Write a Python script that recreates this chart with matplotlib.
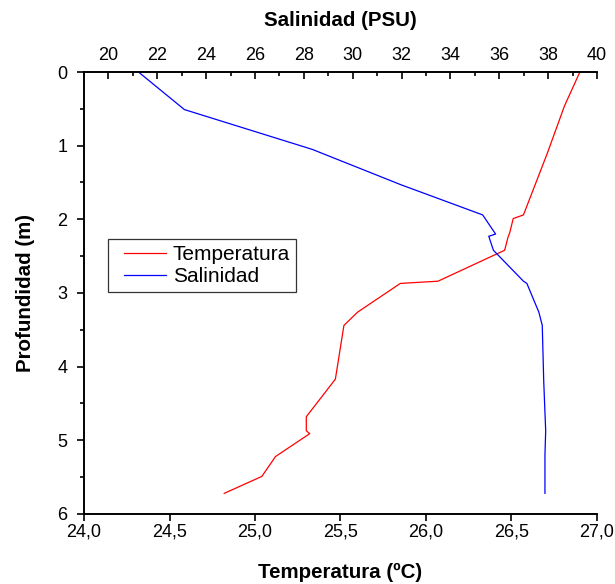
import numpy as np
import matplotlib
matplotlib.use("Agg")
import matplotlib.pyplot as plt
from matplotlib.ticker import FuncFormatter, MultipleLocator
from matplotlib.legend_handler import HandlerLine2D

plt.rcParams["font.family"] = ["Liberation Sans", "DejaVu Sans"]

# perfil de temperatura (ºC) vs profundidad (m)
temp = [26.90, 26.81, 26.71, 26.57, 26.51, 26.49, 26.48, 26.46, 26.07, 25.85,
        25.60, 25.52, 25.47, 25.30, 25.30, 25.32, 25.12, 25.04, 24.82]
depth_t = [0.00, 0.46, 1.10, 1.94, 1.99, 2.18, 2.24, 2.42, 2.84, 2.87,
           3.26, 3.44, 4.17, 4.68, 4.87, 4.91, 5.22, 5.49, 5.72]

# perfil de salinidad (PSU) vs profundidad (m)
sal = [21.23, 23.11, 28.34, 31.97, 35.32, 35.85, 35.57, 35.76, 36.99, 37.13,
       37.62, 37.76, 37.82, 37.90, 37.87, 37.87]
depth_s = [0.00, 0.51, 1.05, 1.53, 1.94, 2.20, 2.23, 2.42, 2.84, 2.87,
           3.26, 3.44, 4.20, 4.87, 5.20, 5.72]

fig = plt.figure(figsize=(6.15, 5.84), dpi=100)
ax = fig.add_axes([0.1366, 0.1199, 0.8341, 0.7568])
ax2 = ax.twiny()

l1, = ax.plot(temp, depth_t, color="#ff0000", lw=0.9, label="Temperatura")
l2, = ax2.plot(sal, depth_s, color="#0000ff", lw=0.9, label="Salinidad")

ax.set_xlim(24.0, 27.0)
ax.set_ylim(6, 0)
ax2.set_xlim(19, 40)

ax.xaxis.set_major_locator(MultipleLocator(0.5))
ax.xaxis.set_major_formatter(FuncFormatter(lambda v, p: f"{v:.1f}".replace(".", ",")))
ax.yaxis.set_major_locator(MultipleLocator(1))
ax.yaxis.set_minor_locator(MultipleLocator(0.5))
ax2.xaxis.set_major_locator(MultipleLocator(2))
ax2.xaxis.set_minor_locator(MultipleLocator(1))

for a in (ax, ax2):
    a.spines["right"].set_visible(False)
    for s in a.spines.values():
        s.set_linewidth(1.2)

ax.tick_params(axis="both", which="major", direction="out", length=5, width=1.2,
               labelsize=13, pad=2)
ax.tick_params(axis="y", which="major", pad=7)
ax.tick_params(axis="y", which="minor", direction="out", length=3, width=1.2)
ax.tick_params(axis="x", top=False)
ax2.tick_params(axis="x", which="major", direction="in", length=5, width=1.2,
                labelsize=13, pad=6)
ax2.tick_params(axis="x", which="minor", direction="in", length=3, width=1.2)

ax.set_xlabel("Temperatura (ºC)", fontsize=14.8, fontweight="bold", labelpad=16)
ax.set_ylabel("Profundidad (m)", fontsize=14.8, fontweight="bold", labelpad=16)
ax2.set_xlabel("Salinidad (PSU)", fontsize=14.8, fontweight="bold", labelpad=15)

leg = ax.legend(handles=[l1, l2], loc="upper left", bbox_to_anchor=(0.047, 0.622),
                fontsize=15, frameon=True, fancybox=False, borderaxespad=0,
                handlelength=2.5, handletextpad=0.33, borderpad=0.28,
                labelspacing=0.17,
                handler_map={l1: HandlerLine2D(xpad=0.5), l2: HandlerLine2D(xpad=0.5)})
leg.get_frame().set_edgecolor("black")
leg.get_frame().set_linewidth(0.9)

fig.savefig("out.png", dpi=100)
